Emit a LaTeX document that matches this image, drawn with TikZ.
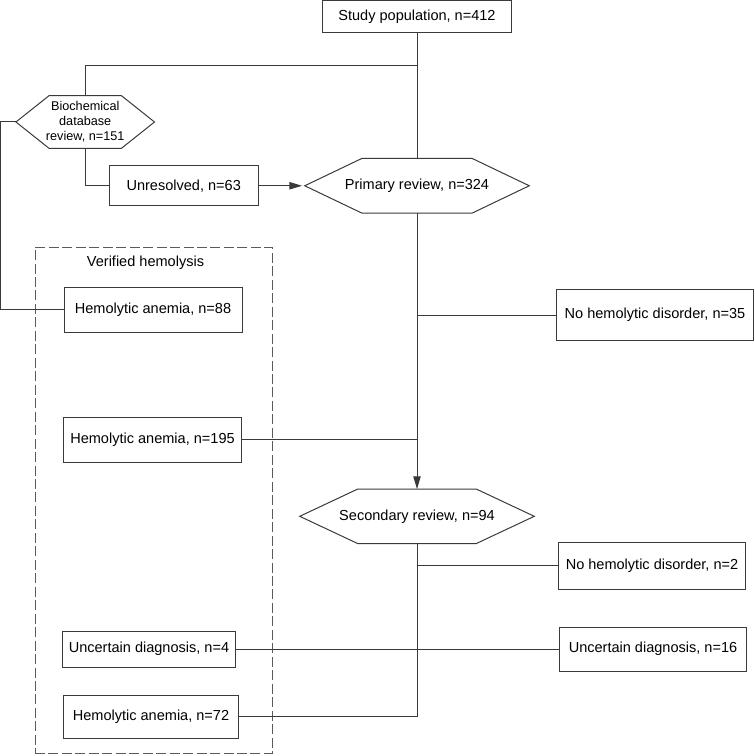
\documentclass[tikz,border=0pt]{standalone}
\usepackage{fontspec}
\setmainfont{Liberation Sans}
\usetikzlibrary{arrows.meta, positioning, fit, backgrounds}
\definecolor{linegray}{HTML}{3A3A3A}
\definecolor{dashgray}{HTML}{5A5A5A}
% hexagon outline round an (invisible) rectangular node
\newcommand{\hexframe}[2]{%
  \draw[line] (#1.west) -- ([xshift=#2]#1.north west) -- ([xshift=-#2]#1.north east)
    -- (#1.east) -- ([xshift=-#2]#1.south east) -- ([xshift=#2]#1.south west) -- cycle;}

\begin{document}
\begin{tikzpicture}[x=0.75pt, y=-0.75pt,
  box/.style 2 args={rectangle, draw=linegray, line width=0.75pt, minimum width=#1, minimum height=#2, inner sep=2pt, text centered, font=\fontsize{10.9}{13}\selectfont},
  hexnode/.style 2 args={rectangle, minimum width=#1, minimum height=#2, inner sep=0pt, align=center, font=\fontsize{10.9}{13}\selectfont},
  line/.style={draw=linegray, line width=0.75pt},
  arrow/.style={line, -{Triangle[length=9.5pt, width=5.5pt]}},
  group/.style={draw=dashgray, line width=0.75pt, dash pattern=on 7.5pt off 2.6pt, inner sep=0pt},
  note/.style={font=\fontsize{10.9}{13}\selectfont}
]
\useasboundingbox (0,0) rectangle (755,756);

% Main column
\node[box={141.75pt}{24pt}] (pop) at (417,17) {Study population, n=412};
\node[hexnode={168pt}{40.5pt}, below=93.75pt of pop] (prim) {Primary review, n=324};
\node[hexnode={175.5pt}{40.5pt}, below=207pt of prim] (sec) {Secondary review, n=94};
\hexframe{prim}{42.75pt}
\hexframe{sec}{43.5pt}

% Biochemical branch
\coordinate[below=24pt of pop] (split);
\node[box={111.75pt}{30pt}, left=34.5pt of prim] (unres) {Unresolved, n=63};
\node[hexnode={103.5pt}{39pt}, font=\fontsize{9.5}{11.25}\selectfont, above=12.75pt of unres, xshift=-73.875pt] (bio) {Biochemical\\database\\review, n=151};
\hexframe{bio}{24.75pt}
\coordinate[left=11.25pt of bio.west] (bend);

% Verified hemolysis group
\node[group, fit={(35,247) (272,753)}] (verified) {};
\node[note] (vlabel) at (145.5,263) {Verified hemolysis};
\node[box={133.5pt}{33.75pt}] (ha88) at (153,309.5) {Hemolytic anemia, n=88};

% Outcomes of primary review
\coordinate (j35) at (417,315);
\node[box={147.75pt}{38.25pt}, right=104.25pt of j35] (nohd35) {No hemolytic disorder, n=35};
\coordinate (j195) at (417,439.5);
\node[box={133.5pt}{33.75pt}, left=131.25pt of j195] (ha195) {Hemolytic anemia, n=195};

% Outcomes of secondary review
\coordinate (j2) at (417,565.5);
\node[box={140.25pt}{35.25pt}, right=105.75pt of j2] (nohd2) {No hemolytic disorder, n=2};
\coordinate (junc) at (417,649);
\node[box={129.75pt}{27pt}, left=135.75pt of junc] (unc4) {Uncertain diagnosis, n=4};
\node[box={140.25pt}{33pt}, right=106.5pt of junc] (unc16) {Uncertain diagnosis, n=16};
\coordinate (j72) at (417,716.5);
\node[box={131.25pt}{32.25pt}, left=133.5pt of j72] (ha72) {Hemolytic anemia, n=72};

% Connectors
\draw[line] (pop) -- (prim);
\draw[line] (split) -| (bio);
\draw[line] (bio) |- (unres);
\draw[arrow, shorten >=2pt] (unres) -- (prim);
\draw[line] (bio.west) -- (bend) |- (ha88);
\draw[arrow] (prim) -- (sec);
\draw[line] (j35) -- (nohd35);
\draw[line] (ha195) -- (j195);
\draw[line] (sec) |- (ha72);
\draw[line] (j2) -- (nohd2);
\draw[line] (unc4) -- (unc16);
\end{tikzpicture}
\end{document}
